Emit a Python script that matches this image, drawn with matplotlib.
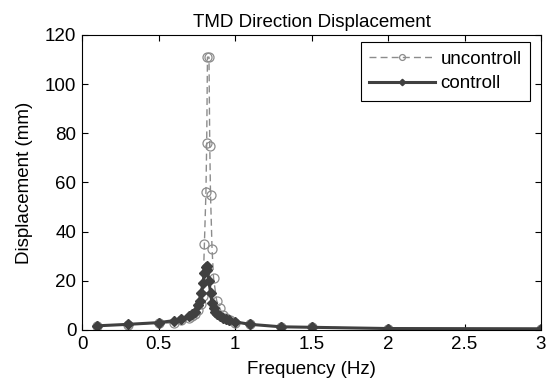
import matplotlib
matplotlib.use("Agg")
import matplotlib.pyplot as plt

plt.rcParams['font.family'] = ['Liberation Sans', 'DejaVu Sans']

freq_unc = [0.1, 0.3, 0.5, 0.6, 0.65, 0.7, 0.72, 0.74, 0.76, 0.78, 0.79, 0.80, 0.81,
            0.815, 0.82, 0.83, 0.835, 0.84, 0.85, 0.86, 0.88, 0.9, 0.92, 0.94, 0.97,
            1.0, 1.1, 1.3, 1.5, 2.0, 3.0]
disp_unc = [1.7, 2.2, 2.9, 2.8, 4.0, 4.8, 5.5, 6.5, 8.0, 10.5, 14.0, 35.0, 56.0,
            76.0, 111.0, 111.0, 75.0, 55.0, 33.0, 21.0, 12.0, 9.0, 6.0, 5.0, 4.0,
            3.0, 2.3, 1.4, 1.2, 0.6, 0.4]

freq_ctl = [0.1, 0.3, 0.5, 0.6, 0.65, 0.7, 0.72, 0.74, 0.76, 0.77, 0.78, 0.79, 0.80,
            0.81, 0.815, 0.82, 0.83, 0.84, 0.85, 0.86, 0.87, 0.88, 0.9, 0.92, 0.94,
            0.96, 1.0, 1.1, 1.3, 1.5, 2.0, 3.0]
disp_ctl = [1.7, 2.3, 3.0, 3.8, 4.5, 5.5, 6.5, 7.5, 10.0, 12.0, 15.0, 19.0, 23.0,
            25.5, 26.0, 24.5, 20.0, 15.0, 11.0, 9.0, 7.5, 6.5, 5.5, 5.0, 4.5,
            4.0, 3.3, 2.3, 1.3, 1.1, 0.6, 0.5]

xticks = [0, 0.5, 1, 1.5, 2, 2.5, 3]
xtick_labels = ['0', '0.5', '1', '1.5', '2', '2.5', '3']
yticks = [0, 20, 40, 60, 80, 100, 120]

fig = plt.figure(figsize=(5.51, 3.85), dpi=100)
ax = fig.add_axes([82 / 551, 55 / 385, 459 / 551, 295 / 385])

ax.plot(freq_unc, disp_unc, linestyle=(0, (5, 3)), color='#8c8c8c', linewidth=1.0,
        marker='o', markersize=6.5, markerfacecolor='none', markeredgecolor='#8c8c8c',
        markeredgewidth=0.9, label='uncontroll')
ax.plot(freq_ctl, disp_ctl, linestyle='-', color='#404040', linewidth=2.2,
        marker='D', markersize=5, markerfacecolor='#404040', markeredgecolor='#404040',
        label='controll')

ax.set_xlim(0, 3)
ax.set_ylim(0, 120)
ax.set_xticks(xticks)
ax.set_xticklabels(xtick_labels)
ax.set_yticks(yticks)
ax.tick_params(direction='in', top=True, right=True, labelsize=13.5, length=4, pad=4)
for s in ax.spines.values():
    s.set_linewidth(0.8)

ax.set_title('TMD Direction Displacement', fontsize=13.5, pad=6)
ax.set_xlabel('Frequency (Hz)', fontsize=13.5, labelpad=6)
ax.set_ylabel('Displacement (mm)', fontsize=13.5, labelpad=9)

leg = ax.legend(loc='upper right', bbox_to_anchor=(0.976, 0.976), borderaxespad=0,
                fontsize=13.5, fancybox=False, framealpha=1, edgecolor='black',
                handlelength=3.5, handletextpad=0.3, markerscale=0.65,
                labelspacing=0.4, borderpad=0.45)
leg.get_frame().set_linewidth(0.8)

fig.savefig('out.png', dpi=100)
